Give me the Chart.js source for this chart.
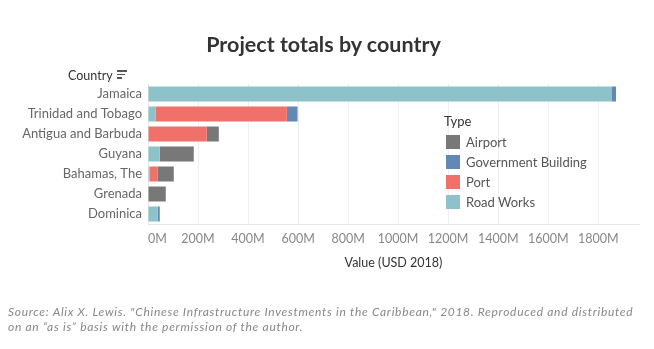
<!DOCTYPE html>
<html>
<head>
<meta charset="utf-8">
<script src="https://cdn.jsdelivr.net/npm/chart.js@4"></script>
<style>
  body { margin: 0; background: #fff; font-family: Lato, "Open Sans", sans-serif; }
  #wrap { position: relative; width: 654px; height: 349px; overflow: hidden; }
  #chart { position: absolute; left: 0; top: 0; }
  .title { position: absolute; left: 0; width: 647px; top: 31px; text-align: center; font-size: 21.5px; font-weight: bold; color: #333; }
  .hdr { position: absolute; left: 68px; top: 68px; font-size: 12.5px; color: #333; }
  .sorticon { position: absolute; left: 117px; top: 70px; }
  .sorticon i { display: block; height: 1.5px; background: #555; margin-bottom: 2px; }
  .legend { position: absolute; left: 444px; top: 113px; font-size: 13px; color: #555; }
  .legend .lt { color: #333; margin-bottom: 3px; }
  .legend .row { height: 20px; display: flex; align-items: center; }
  .legend .sw { width: 14px; height: 14px; margin: 0 6px 0 2px; }
  .source { position: absolute; left: 8px; top: 304px; font-size: 12px; letter-spacing: 0.7px; font-style: italic; color: #888; line-height: 15px; white-space: nowrap; }
</style>
</head>
<body>
<div id="wrap">
  <canvas id="chart" width="654" height="349"></canvas>
  <div class="title">Project totals by country</div>
  <div class="hdr">Country</div>
  <div class="sorticon"><i style="width:10px"></i><i style="width:8px"></i><i style="width:5px"></i></div>
  <div class="legend" id="legend"><div class="lt">Type</div></div>
  <div class="source">Source: Alix X. Lewis. "Chinese Infrastructure Investments in the Caribbean," 2018. Reproduced and distributed<br>on an “as is” basis with the permission of the author.</div>
</div>
<script>
// --- Data (USD millions, 2018) ---
const countries = ['Jamaica', 'Trinidad and Tobago', 'Antigua and Barbuda', 'Guyana', 'Bahamas, The', 'Grenada', 'Dominica'];
const roadWorks = [1855, 30, 0, 47, 7, 0, 39];
const port = [0, 525, 235, 0, 32, 0, 0];
const govBuilding = [16, 43, 0, 0, 0, 0, 8];
const airport = [0, 0, 48, 136, 64, 71, 0];
const xTicks = [0, 200, 400, 600, 800, 1000, 1200, 1400, 1600, 1800];

// legend order vs stacking order differ (Tableau style)
const legendItems = [
    { label: 'Airport', color: '#787878' },
    { label: 'Government Building', color: '#6288b4' },
    { label: 'Port', color: '#f0706a' },
    { label: 'Road Works', color: '#8dc2ca' }
];
const colorOf = name => legendItems.find(l => l.label === name).color;

const legendEl = document.getElementById('legend');
legendItems.forEach(l => {
    const row = document.createElement('div');
    row.className = 'row';
    row.innerHTML = `<span class="sw" style="background:${l.color}"></span><span>${l.label}</span>`;
    legendEl.appendChild(row);
});

const mkSet = (label, data) => ({
    label, data,
    backgroundColor: colorOf(label),
    borderWidth: 0,
    barPercentage: 0.75,
    categoryPercentage: 1
});

new Chart(document.getElementById('chart'), {
    type: 'bar',
    data: {
        labels: countries,
        datasets: [
            mkSet('Road Works', roadWorks),
            mkSet('Port', port),
            mkSet('Government Building', govBuilding),
            mkSet('Airport', airport)
        ]
    },
    options: {
        indexAxis: 'y',
        responsive: false,
        animation: false,
        layout: { padding: { top: 84, right: 15, bottom: 77, left: 0 } },
        plugins: { legend: { display: false }, tooltip: { enabled: false } },
        scales: {
            x: {
                stacked: true,
                min: 0,
                max: 1963,
                afterBuildTicks: s => { s.ticks = xTicks.map(v => ({ value: v })); },
                afterFit: s => { s.height = 48; },
                ticks: {
                    color: '#888',
                    font: { family: 'Lato', size: 12.5 },
                    padding: 7,
                    maxRotation: 0,
                    autoSkip: false,
                    // first label sits inside the axis, like a left-aligned label
                    callback: v => v === 0 ? '\u2002\u2002\u20020M' : v + 'M'
                },
                grid: { color: '#efefef', drawTicks: false },
                border: { color: '#e6e6e6' },
                title: {
                    display: true,
                    text: 'Value (USD 2018)',
                    color: '#333',
                    font: { family: 'Lato', size: 12.5 },
                    padding: { top: 0, bottom: 2 }
                }
            },
            y: {
                stacked: true,
                afterFit: s => { s.width = 148; },
                ticks: {
                    color: '#666',
                    font: { family: 'Lato', size: 13 },
                    padding: 6
                },
                grid: { display: false, drawTicks: false },
                border: { color: '#e6e6e6' }
            }
        }
    }
});
</script>
</body>
</html>
